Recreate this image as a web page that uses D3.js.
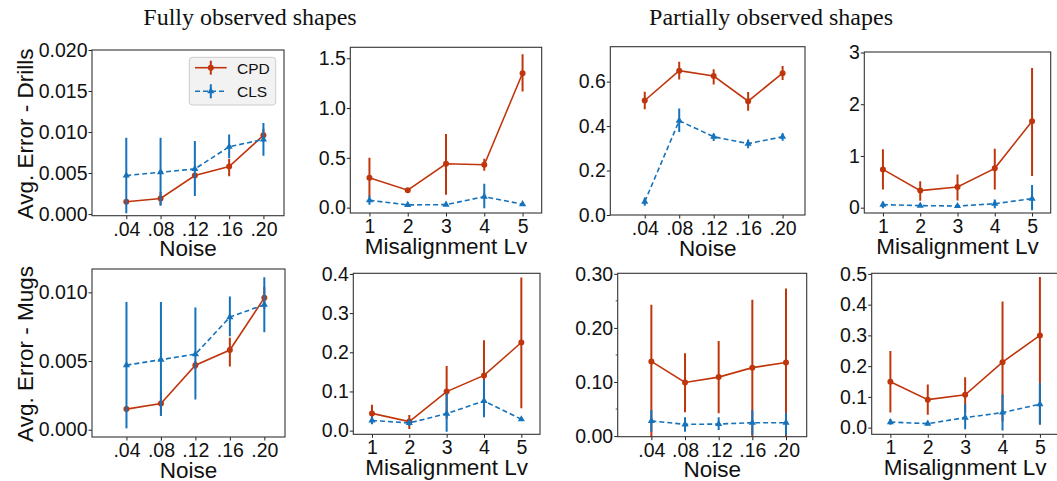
<!DOCTYPE html>
<html>
<head>
<meta charset="utf-8">
<script src="https://cdn.jsdelivr.net/npm/d3@7"></script>
<style>
  body { margin: 0; background: #fff; }
  text { font-family: "Liberation Sans", Arial, sans-serif; fill: #111; }
</style>
</head>
<body>
<svg id="fig" width="1057" height="481"></svg>
<script>
// x values / tick labels
const noiseLevels = [0.04, 0.08, 0.12, 0.16, 0.20];
const noiseLabels = [".04", ".08", ".12", ".16", ".20"];
const misLevels = [1, 2, 3, 4, 5];
const misLabels = ["1", "2", "3", "4", "5"];

// fully observed, noise (drills and mugs look identical)
const fullNoiseCPD   = [0.0015, 0.0019, 0.0047, 0.0058, 0.0096];
const fullNoiseCPDLo = [0.0013, 0.0011, 0.0044, 0.0046, 0.0088];
const fullNoiseCPDHi = [0.0017, 0.0027, 0.0050, 0.0067, 0.0104];
const fullNoiseCLS   = [0.0047, 0.0051, 0.0055, 0.0082, 0.0091];
const fullNoiseCLSLo = [0.0001, 0.0010, 0.0022, 0.0068, 0.0071];
const fullNoiseCLSHi = [0.0093, 0.0093, 0.0089, 0.0097, 0.0111];

// drills, fully observed, misalignment
const drillFullMisCPD   = [0.30, 0.175, 0.44, 0.43, 1.35];
const drillFullMisCPDLo = [0.11, 0.16, 0.13, 0.37, 1.165];
const drillFullMisCPDHi = [0.50, 0.19, 0.74, 0.49, 1.54];
const drillFullMisCLS   = [0.074, 0.027, 0.030, 0.11, 0.034];
const drillFullMisCLSLo = [0.03, 0.02, 0.02, -0.007, 0.028];
const drillFullMisCLSHi = [0.12, 0.035, 0.04, 0.24, 0.04];

// drills, partially observed, noise
const drillPartNoiseCPD   = [0.515, 0.649, 0.625, 0.512, 0.638];
const drillPartNoiseCPDLo = [0.476, 0.61, 0.587, 0.469, 0.607];
const drillPartNoiseCPDHi = [0.554, 0.689, 0.656, 0.553, 0.670];
const drillPartNoiseCLS   = [0.060, 0.424, 0.352, 0.321, 0.352];
const drillPartNoiseCLSLo = [0.042, 0.373, 0.333, 0.30, 0.334];
const drillPartNoiseCLSHi = [0.079, 0.479, 0.367, 0.34, 0.368];

// drills, partially observed, misalignment
const drillPartMisCPD   = [0.74, 0.33, 0.40, 0.76, 1.67];
const drillPartMisCPDLo = [0.35, 0.135, 0.14, 0.35, 0.61];
const drillPartMisCPDHi = [1.13, 0.51, 0.64, 1.14, 2.70];
const drillPartMisCLS   = [0.058, 0.040, 0.032, 0.077, 0.174];
const drillPartMisCLSLo = [-0.013, 0.02, 0.02, -0.01, -0.05];
const drillPartMisCLSHi = [0.116, 0.06, 0.045, 0.16, 0.44];

// mugs, fully observed, misalignment
const mugFullMisCPD   = [0.044, 0.023, 0.0996, 0.141, 0.225];
const mugFullMisCPDLo = [0.026, 0.004, 0.031, 0.053, 0.057];
const mugFullMisCPDHi = [0.066, 0.040, 0.165, 0.231, 0.391];
const mugFullMisCLS   = [0.026, 0.0196, 0.0434, 0.0757, 0.029];
const mugFullMisCLSLo = [0.016, 0.012, -0.003, 0.034, 0.026];
const mugFullMisCLSHi = [0.036, 0.027, 0.095, 0.129, 0.032];

// mugs, partially observed, noise
const mugPartNoiseCPD   = [0.138, 0.099, 0.109, 0.1265, 0.136];
const mugPartNoiseCPDLo = [-0.002, 0.044, 0.042, -0.002, -0.002];
const mugPartNoiseCPDHi = [0.243, 0.153, 0.176, 0.252, 0.273];
const mugPartNoiseCLS   = [0.028, 0.0216, 0.0222, 0.0247, 0.0247];
const mugPartNoiseCLSLo = [0.008, 0.008, 0.011, 0.002, 0.002];
const mugPartNoiseCLSHi = [0.048, 0.035, 0.0346, 0.048, 0.043];

// mugs, partially observed, misalignment
const mugPartMisCPD   = [0.149, 0.091, 0.107, 0.213, 0.300];
const mugPartMisCPDLo = [0.049, 0.042, 0.049, 0.02, 0.009];
const mugPartMisCPDHi = [0.249, 0.14, 0.164, 0.41, 0.49];
const mugPartMisCLS   = [0.018, 0.013, 0.0325, 0.049, 0.076];
const mugPartMisCLSLo = [0.009, 0.008, -0.005, -0.009, 0.011];
const mugPartMisCLSHi = [0.028, 0.018, 0.076, 0.108, 0.146];

const red = "#c0360c";
const blue = "#1572bb";

const svg = d3.select("#fig");

// panel layout (pixels) + which data goes where
const panels = [
  { id: "p1", left: 92, right: 284, top: 50, bottom: 215.7,
    xs: noiseLevels, xLabels: noiseLabels, xDomain: [0, 0.224], xTitle: "Noise",
    yDomain: [-0.0002, 0.020], yTicks: [0, 0.005, 0.010, 0.015, 0.020], yFmt: ".3f",
    yTitle: "Avg. Error - Drills", legend: true,
    cpd: [fullNoiseCPD, fullNoiseCPDLo, fullNoiseCPDHi], cls: [fullNoiseCLS, fullNoiseCLSLo, fullNoiseCLSHi] },
  { id: "p2", left: 350.3, right: 541.7, top: 47.3, bottom: 213,
    xs: misLevels, xLabels: misLabels, xDomain: [0.5, 5.5], xTitle: "Misalignment Lv",
    yDomain: [-0.054, 1.61], yTicks: [0, 0.5, 1.0, 1.5], yFmt: ".1f",
    cpd: [drillFullMisCPD, drillFullMisCPDLo, drillFullMisCPDHi], cls: [drillFullMisCLS, drillFullMisCLSLo, drillFullMisCLSHi] },
  { id: "p3", left: 610.3, right: 805, top: 46.7, bottom: 215,
    xs: noiseLevels, xLabels: noiseLabels, xDomain: [0, 0.226], xTitle: "Noise",
    yDomain: [0, 0.757], yTicks: [0, 0.2, 0.4, 0.6], yFmt: ".1f",
    cpd: [drillPartNoiseCPD, drillPartNoiseCPDLo, drillPartNoiseCPDHi], cls: [drillPartNoiseCLS, drillPartNoiseCLSLo, drillPartNoiseCLSHi] },
  { id: "p4", left: 864.3, right: 1050.7, top: 52, bottom: 213,
    xs: misLevels, xLabels: misLabels, xDomain: [0.5, 5.5], xTitle: "Misalignment Lv",
    yDomain: [-0.103, 3.01], yTicks: [0, 1, 2, 3], yFmt: "d",
    cpd: [drillPartMisCPD, drillPartMisCPDLo, drillPartMisCPDHi], cls: [drillPartMisCLS, drillPartMisCLSLo, drillPartMisCLSHi] },
  { id: "p5", left: 92, right: 285, top: 269, bottom: 437,
    xs: noiseLevels, xLabels: noiseLabels, xDomain: [0, 0.224], xTitle: "Noise",
    yDomain: [-0.00053, 0.0117], yTicks: [0, 0.005, 0.010], yFmt: ".3f",
    yTitle: "Avg. Error - Mugs",
    cpd: [fullNoiseCPD, fullNoiseCPDLo, fullNoiseCPDHi], cls: [fullNoiseCLS, fullNoiseCLSLo, fullNoiseCLSHi] },
  { id: "p6", left: 353.3, right: 540, top: 273.3, bottom: 434.3,
    xs: misLevels, xLabels: misLabels, xDomain: [0.5, 5.5], xTitle: "Misalignment Lv",
    yDomain: [-0.0094, 0.4017], yTicks: [0, 0.1, 0.2, 0.3, 0.4], yFmt: ".1f",
    cpd: [mugFullMisCPD, mugFullMisCPDLo, mugFullMisCPDHi], cls: [mugFullMisCLS, mugFullMisCLSLo, mugFullMisCLSHi] },
  { id: "p7", left: 617.7, right: 806.7, top: 273.3, bottom: 436.7,
    xs: noiseLevels, xLabels: noiseLabels, xDomain: [0, 0.2246], xTitle: "Noise",
    yDomain: [-0.0012, 0.301], yTicks: [0, 0.1, 0.2, 0.3], yFmt: ".2f", yMinor: [0.05, 0.15, 0.25],
    cpd: [mugPartNoiseCPD, mugPartNoiseCPDLo, mugPartNoiseCPDHi], cls: [mugPartNoiseCLS, mugPartNoiseCLSLo, mugPartNoiseCLSHi] },
  { id: "p8", left: 871.7, right: 1058.6, top: 273.3, bottom: 434.3,
    xs: misLevels, xLabels: misLabels, xDomain: [0.5, 5.5], xTitle: "Misalignment Lv",
    yDomain: [-0.0217, 0.502], yTicks: [0, 0.1, 0.2, 0.3, 0.4, 0.5], yFmt: ".1f",
    cpd: [mugPartMisCPD, mugPartMisCPDLo, mugPartMisCPDHi], cls: [mugPartMisCLS, mugPartMisCLSLo, mugPartMisCLSHi] }
];

// column titles
svg.append("text").attr("x", 250).attr("y", 25).attr("text-anchor", "middle")
  .style("font-family", "'Liberation Serif', 'DejaVu Serif', serif").style("font-size", "24px")
  .text("Fully observed shapes");
svg.append("text").attr("x", 771).attr("y", 25).attr("text-anchor", "middle")
  .style("font-family", "'Liberation Serif', 'DejaVu Serif', serif").style("font-size", "24px")
  .text("Partially observed shapes");

function drawSeries(g, x, y, xs, s, color, dashed, marker) {
  const [vals, lo, hi] = s;
  // error bars
  g.selectAll(null).data(vals).enter().append("line")
    .attr("x1", (d, i) => x(xs[i])).attr("x2", (d, i) => x(xs[i]))
    .attr("y1", (d, i) => y(lo[i])).attr("y2", (d, i) => y(hi[i]))
    .attr("stroke", color).attr("stroke-width", 2);
  const line = d3.line().x((d, i) => x(xs[i])).y(d => y(d));
  g.append("path").attr("d", line(vals))
    .attr("fill", "none").attr("stroke", color).attr("stroke-width", 1.6)
    .attr("stroke-dasharray", dashed ? "5,3" : null);
  if (marker === "circle") {
    g.selectAll(null).data(vals).enter().append("circle")
      .attr("cx", (d, i) => x(xs[i])).attr("cy", d => y(d)).attr("r", 3)
      .attr("fill", color);
  } else {
    const tri = d3.symbol().type(d3.symbolTriangle).size(22);
    g.selectAll(null).data(vals).enter().append("path")
      .attr("d", tri)
      .attr("transform", (d, i) => "translate(" + x(xs[i]) + "," + y(d) + ")")
      .attr("fill", color);
  }
}

panels.forEach(p => {
  const x = d3.scaleLinear().domain(p.xDomain).range([p.left, p.right]);
  const y = d3.scaleLinear().domain(p.yDomain).range([p.bottom, p.top]);
  const g = svg.append("g");

  g.append("clipPath").attr("id", "clip-" + p.id)
    .append("rect").attr("x", p.left).attr("y", p.top)
    .attr("width", p.right - p.left).attr("height", p.bottom - p.top);

  // axes
  const xa = g.append("g").attr("transform", "translate(0," + p.bottom + ")")
    .call(d3.axisBottom(x).tickValues(p.xs).tickFormat((d, i) => p.xLabels[i])
      .tickSize(3.5).tickPadding(2.5));
  const ya = g.append("g").attr("transform", "translate(" + p.left + ",0)")
    .call(d3.axisLeft(y).tickValues(p.yTicks).tickFormat(d3.format(p.yFmt))
      .tickSize(3.5).tickPadding(1));
  [xa, ya].forEach(a => {
    a.select(".domain").remove();
    a.selectAll("line").attr("stroke", "#222");
    a.selectAll("text").style("font-size", "19.5px").style("font-family", "'Liberation Sans', Arial, sans-serif").attr("fill", "#111");
  });
  if (p.yMinor) {
    g.selectAll(null).data(p.yMinor).enter().append("line")
      .attr("x1", p.left - 2).attr("x2", p.left)
      .attr("y1", d => y(d)).attr("y2", d => y(d))
      .attr("stroke", "#222").attr("stroke-width", 0.8);
  }

  // plot content
  const plot = g.append("g").attr("clip-path", "url(#clip-" + p.id + ")");
  drawSeries(plot, x, y, p.xs, p.cpd, red, false, "circle");
  drawSeries(plot, x, y, p.xs, p.cls, blue, true, "triangle");

  // frame
  g.append("rect").attr("x", p.left).attr("y", p.top)
    .attr("width", p.right - p.left).attr("height", p.bottom - p.top)
    .attr("fill", "none").attr("stroke", "#333").attr("stroke-width", 1.1);

  // axis titles
  g.append("text").attr("x", (p.left + p.right) / 2).attr("y", p.bottom + 40.5)
    .attr("text-anchor", "middle").style("font-size", "22.5px").text(p.xTitle);
  if (p.yTitle) {
    g.append("text")
      .attr("transform", "translate(33," + ((p.top + p.bottom) / 2 + 1) + ") rotate(-90)")
      .attr("text-anchor", "middle").style("font-size", "22.5px").text(p.yTitle);
  }

  if (p.legend) {
    const lg = g.append("g");
    lg.append("rect").attr("x", 189.3).attr("y", 57.3).attr("width", 86.4).attr("height", 47.7)
      .attr("rx", 3).attr("fill", "#f2f2f2").attr("stroke", "#cccccc").attr("stroke-width", 1);
    const entries = [
      { name: "CPD", color: red, dashed: false, marker: "circle", y: 67.7 },
      { name: "CLS", color: blue, dashed: true, marker: "triangle", y: 91.3 }
    ];
    entries.forEach(e => {
      lg.append("line").attr("x1", 195).attr("x2", 226.7).attr("y1", e.y).attr("y2", e.y)
        .attr("stroke", e.color).attr("stroke-width", 1.6)
        .attr("stroke-dasharray", e.dashed ? "5,3" : null);
      lg.append("line").attr("x1", 210.8).attr("x2", 210.8).attr("y1", e.y - 7).attr("y2", e.y + 7)
        .attr("stroke", e.color).attr("stroke-width", 2);
      if (e.marker === "circle") {
        lg.append("circle").attr("cx", 210.8).attr("cy", e.y).attr("r", 3).attr("fill", e.color);
      } else {
        lg.append("path").attr("d", d3.symbol().type(d3.symbolTriangle).size(22))
          .attr("transform", "translate(210.8," + e.y + ")").attr("fill", e.color);
      }
      lg.append("text").attr("x", 237).attr("y", e.y + 6).style("font-size", "15.5px").text(e.name);
    });
  }
});
</script>
</body>
</html>
